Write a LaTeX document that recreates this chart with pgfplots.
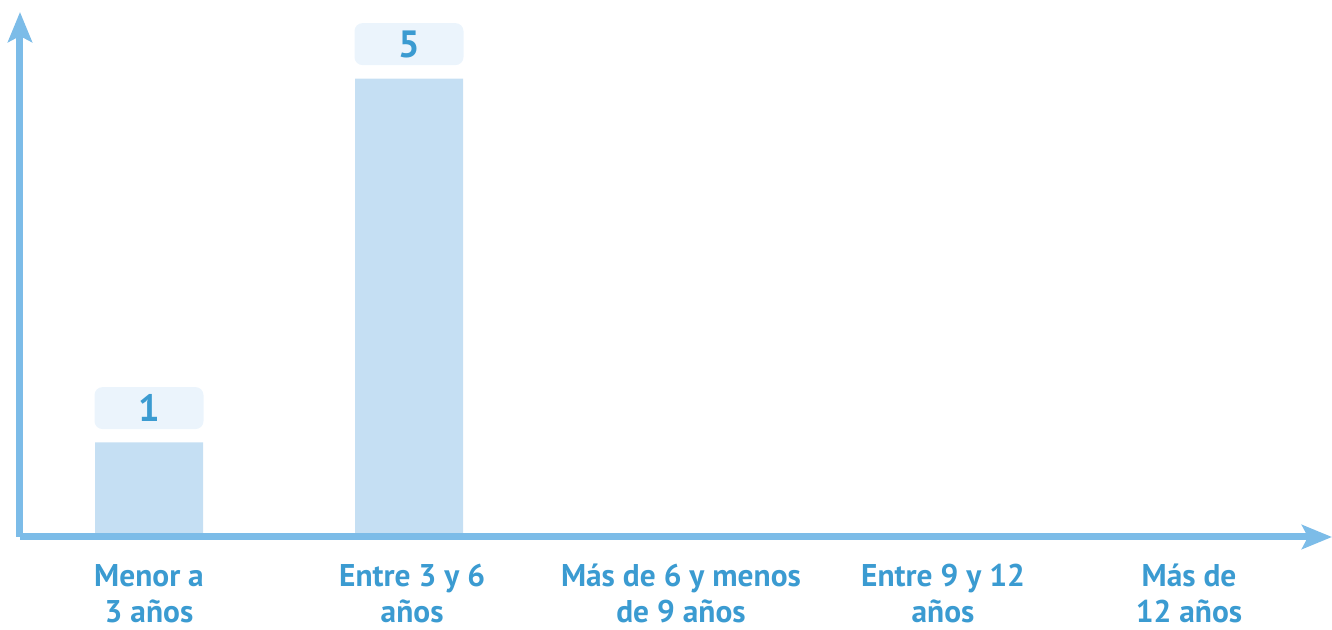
\documentclass[border=0pt]{standalone}
\usepackage{pgfplots}
\pgfplotsset{compat=1.18}
\usepackage{fontspec}
\setmainfont{PT Sans}
\usetikzlibrary{arrows.meta}
\definecolor{axiscol}{HTML}{7CBCE8}
\definecolor{barcol}{HTML}{C5DFF3}
\definecolor{boxcol}{HTML}{EBF4FC}
\definecolor{txtcol}{HTML}{3B9BD1}
\newcommand{\lbl}[2]{\vtop{\baselineskip=17.8pt\halign{\hfil##\hfil\cr#1\cr#2\cr}}}
\begin{document}
\begin{tikzpicture}
\useasboundingbox (-10pt,-46.5pt) rectangle (656pt,268.5pt);
\begin{axis}[
  scale only axis,
  width=656pt, height=262.5pt,
  xmin=-0.4962, xmax=4.55,
  ymin=-0.0385, ymax=5.731,
  axis x line=bottom, axis y line=left,
  axis line style={line width=3.5pt, color=axiscol, -{Stealth[length=15pt,width=12pt,inset=3pt]}},
  ytick=\empty,
  xtick={0,1.012,2.046,3.054,4},
  xticklabels={\lbl{Menor a}{3 años},\lbl{Entre 3 y 6}{años},\lbl{Más de 6 y menos}{de 9 años},\lbl{Entre 9 y 12}{años},\lbl{Más de}{12 años}},
  major tick length=0pt,
  xticklabel style={anchor=base, inner sep=0pt, yshift=-25pt, text=txtcol, font=\fontsize{15.7}{17.8}\selectfont\bfseries},
  /pgf/number format/assume math mode=true,
  axis on top,
  clip=false,
]
\addplot[ybar, bar width=54pt, fill=barcol, draw=none,
  nodes near coords,
  every node near coord/.style={anchor=south, yshift=6.5pt, fill=boxcol, rounded corners=4pt,
    minimum width=54.5pt, minimum height=21pt, inner sep=0pt, text=txtcol,
    font=\fontsize{19}{19}\selectfont\bfseries}]
  coordinates {(0,1) (1,5)};
\end{axis}
\end{tikzpicture}
\end{document}
